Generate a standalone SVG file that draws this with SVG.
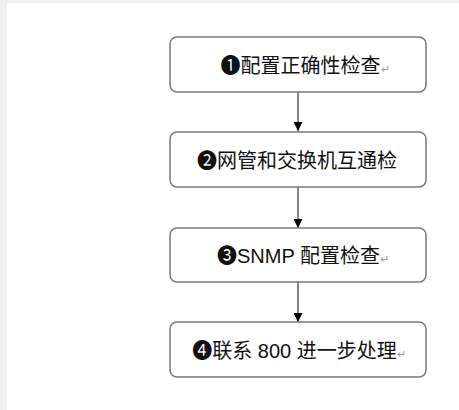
<svg xmlns="http://www.w3.org/2000/svg" width="459" height="410" viewBox="0 0 459 410">
<style>
.box{fill:#ffffff;stroke:#7a7a7a;stroke-width:1.5}
.lbl{font-family:"Liberation Sans","Noto Sans CJK SC",sans-serif;font-size:20px;fill:#111111;text-anchor:middle}
.ret{font-size:11px;fill:#9a9a9a}
.conn{stroke:#333333;stroke-width:1.2;fill:none}
</style>
<defs>
<marker id="ah" viewBox="0 0 10 10" refX="10" refY="5" markerWidth="9" markerHeight="9" markerUnits="userSpaceOnUse" orient="auto">
<path d="M0,0 L10,5 L0,10 Z" fill="#000000"/>
</marker>
</defs>
<rect x="0" y="0" width="459" height="410" fill="#f0f0f0"/>
<rect x="7" y="3" width="452" height="407" fill="#ffffff"/>
<g id="connectors">
<line class="conn" x1="298" y1="92" x2="298" y2="131" marker-end="url(#ah)"/>
<line class="conn" x1="298" y1="187" x2="298" y2="228" marker-end="url(#ah)"/>
<line class="conn" x1="298" y1="282" x2="298" y2="322" marker-end="url(#ah)"/>
</g>
<g id="node1">
<rect class="box" x="170" y="37" width="256" height="55" rx="7"/>
<text class="lbl" x="305" y="73">❶配置正确性检查<tspan class="ret">↵</tspan></text>
</g>
<g id="node2">
<rect class="box" x="170" y="132" width="256" height="55" rx="7"/>
<text class="lbl" x="297" y="168">❷网管和交换机互通检</text>
</g>
<g id="node3">
<rect class="box" x="170" y="228" width="256" height="54" rx="7"/>
<text class="lbl" x="303" y="263">❸SNMP 配置检查<tspan class="ret">↵</tspan></text>
</g>
<g id="node4">
<rect class="box" x="170" y="322" width="256" height="55" rx="7"/>
<text class="lbl" x="299" y="358">❹联系 800 进一步处理<tspan class="ret">↵</tspan></text>
</g>
</svg>
